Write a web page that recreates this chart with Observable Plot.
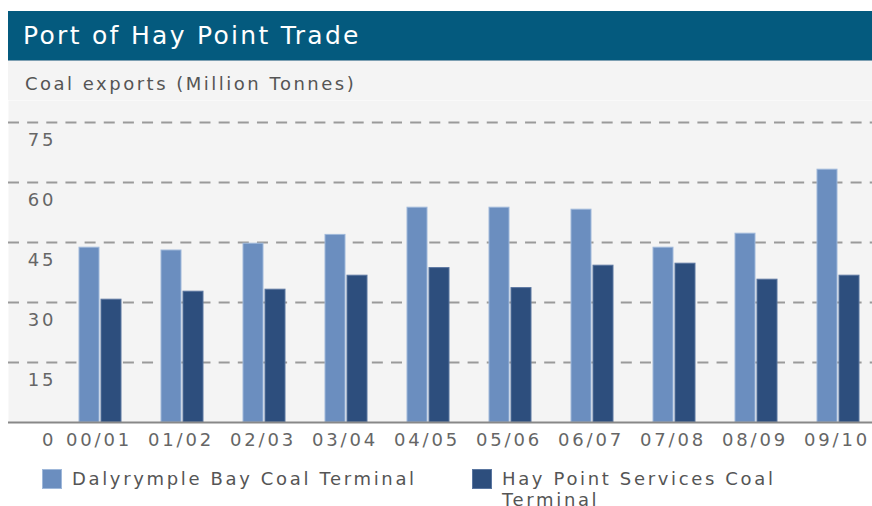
<!DOCTYPE html>
<html>
<head>
<meta charset="utf-8">
<script src="https://cdn.jsdelivr.net/npm/d3@7"></script>
<script src="https://cdn.jsdelivr.net/npm/@observablehq/plot@0.6"></script>
<style>
  body { margin: 0; background: #fff; font-family: "DejaVu Sans", Verdana, sans-serif; }
  #wrap { position: absolute; left: 8px; top: 11px; width: 864px; }
  #title { height: 49px; background: #045a7e; color: #fff; font-size: 25px; line-height: 49px;
           letter-spacing: 2.3px; padding-left: 15px; border-bottom: 1px solid #7d9fb2; white-space: nowrap; }
  #subtitle { height: 39px; box-sizing: border-box; background: #f4f4f4; color: #555;
              font-size: 18px; line-height: 22px; letter-spacing: 2.5px; padding: 12px 0 0 17px; white-space: nowrap; }
  #chart svg { display: block; }
  #legend { display: flex; padding: 8px 0 0 34px; font-size: 18px; line-height: 21px; color: #555; letter-spacing: 2.65px; }
  .item { display: flex; align-items: flex-start; width: 430px; flex: none; }
  .sw { width: 20px; height: 20px; margin-top: 1px; margin-right: 10px; box-sizing: border-box; flex: none; }
  .lab { width: 362px; }
</style>
</head>
<body>
<div id="wrap">
  <div id="title">Port of Hay Point Trade</div>
  <div id="subtitle">Coal exports (Million Tonnes)</div>
  <div id="chart"></div>
  <div id="legend"></div>
</div>
<script>
const categories = ["00/01", "01/02", "02/03", "03/04", "04/05", "05/06", "06/07", "07/08", "08/09", "09/10"];
const dalrymple = [43.7, 43.0, 44.7, 46.9, 53.7, 53.7, 53.2, 43.7, 47.2, 63.2];
const haypoint  = [30.7, 32.7, 33.2, 36.7, 38.6, 33.6, 39.2, 39.7, 35.7, 36.7];
const seriesNames = ["Dalyrymple Bay Coal Terminal", "Hay Point Services Coal Terminal"];
const seriesColors = ["#6b8ebf", "#2d4e7d"];
const seriesEdges = ["#9fb8da", "#5a76a0"];
const yTicks = [0, 15, 30, 45, 60, 75];

const rows = [];
categories.forEach((c, i) => {
  rows.push({category: c, series: seriesNames[0], value: dalrymple[i]});
  rows.push({category: c, series: seriesNames[1], value: haypoint[i]});
});

const chart = Plot.plot({
  width: 864,
  height: 360,
  marginTop: 0,
  marginBottom: 38,
  marginLeft: 0,
  marginRight: 0,
  style: {background: "transparent", fontFamily: "DejaVu Sans, Verdana, sans-serif", fontSize: "18px", color: "#666", overflow: "visible", letterSpacing: "2.8px"},
  x: {domain: categories, range: [70, 851], paddingInner: 0.488, paddingOuter: 0, label: null},
  y: {domain: [0, 75], range: [322, 22], label: null},
  color: {domain: seriesNames, range: seriesColors},
  marks: [
    Plot.frame({fill: "#f4f4f4", stroke: "none"}),
    Plot.ruleY(yTicks.filter(d => d > 0), {stroke: "#9a9a9a", strokeWidth: 2, strokeDasharray: "11,8.15"}),
    Plot.barY(rows.filter(d => d.series === seriesNames[0]), {x: "category", y: "value", fill: "series", insetRight: 22, stroke: seriesEdges[0], strokeWidth: 1}),
    Plot.barY(rows.filter(d => d.series === seriesNames[1]), {x: "category", y: "value", fill: "series", insetLeft: 22, stroke: seriesEdges[1], strokeWidth: 1}),
    Plot.ruleY([0], {stroke: "#888", strokeWidth: 2}),
    Plot.axisX({tickSize: 0, tickPadding: 11, fontSize: 18, fill: "#666", dx: -1.5, label: null}),
    Plot.axisY({ticks: yTicks, tickSize: 0, tickPadding: 0, dx: 47.8, dy: 18, textAnchor: "end", fontSize: 18, fill: "#666", label: null})
  ]
});
document.getElementById("chart").appendChild(chart);

const legend = document.getElementById("legend");
seriesNames.forEach((name, i) => {
  const item = document.createElement("div");
  item.className = "item";
  const sw = document.createElement("div");
  sw.className = "sw";
  sw.style.background = seriesColors[i];
  sw.style.border = "1px solid " + seriesEdges[i];
  const lab = document.createElement("div");
  lab.className = "lab";
  lab.textContent = name;
  item.appendChild(sw);
  item.appendChild(lab);
  legend.appendChild(item);
});
</script>
</body>
</html>
